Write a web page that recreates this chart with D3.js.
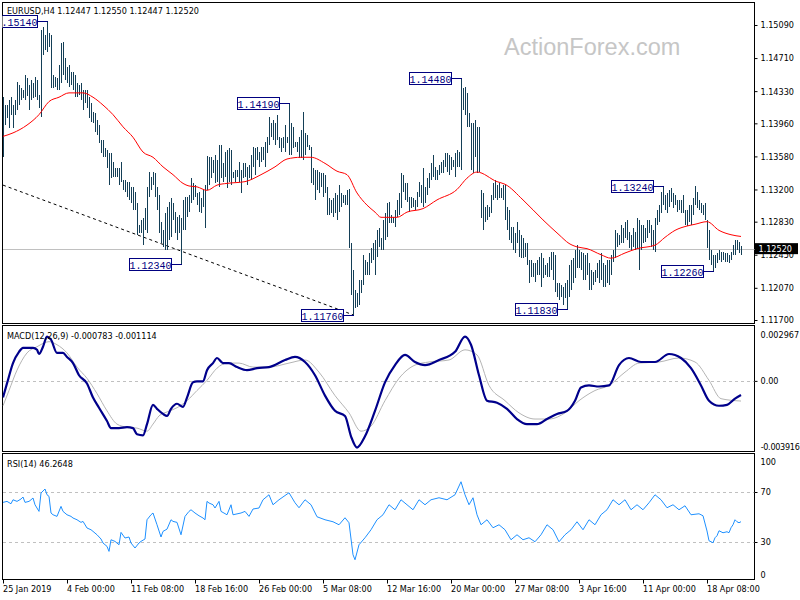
<!DOCTYPE html>
<html><head><meta charset="utf-8">
<script src="https://cdn.jsdelivr.net/npm/d3@7"></script>
<style>
body{margin:0;background:#fff}
svg text{font-family:"DejaVu Sans Condensed","DejaVu Sans",sans-serif;font-stretch:condensed;font-size:9px;fill:#000}
</style></head><body>
<svg id="c" width="800" height="600"></svg>
<script>
const chartTitle = "EURUSD,H4  1.12447 1.12550 1.12447 1.12520";
const macdTitle = "MACD(12,26,9) -0.000783 -0.001114";
const rsiTitle = "RSI(14) 46.2648";
const watermark = "ActionForex.com";

const highs = [
1.1426,1.1417,1.1417,1.1423,1.1426,1.1417,1.1423,1.1443,1.1440,1.1437,
1.1434,1.1451,1.1448,1.1440,1.1446,1.1442,1.1449,1.1446,1.1428,1.1503,
1.1507,1.1497,1.1514,1.1500,1.1497,1.1451,1.1449,1.1448,1.1463,1.1488,
1.1489,1.1471,1.1461,1.1463,1.1455,1.1455,1.1451,1.1442,1.1440,1.1442,
1.1434,1.1434,1.1434,1.1426,1.1419,1.1409,1.1408,1.1400,1.1394,1.1377,
1.1377,1.1368,1.1365,1.1362,1.1362,1.1352,1.1345,1.1345,1.1345,1.1352,
1.1331,1.1331,1.1329,1.1329,1.1323,1.1323,1.1317,1.1304,1.1279,1.1285,
1.1287,1.1299,1.1323,1.1340,1.1334,1.1340,1.1339,1.1323,1.1314,1.1283,
1.1273,1.1293,1.1300,1.1306,1.1310,1.1304,1.1294,1.1288,1.1291,1.1287,
1.1308,
1.1311,1.1311,1.1314,1.1333,1.1327,1.1325,1.1316,1.1317,1.1310,
1.1319,1.1325,1.1358,1.1357,1.1357,1.1354,1.1360,1.1354,1.1371,1.1371,
1.1350,1.1363,1.1365,1.1368,1.1365,1.1340,1.1342,1.1342,1.1352,1.1342,
1.1350,1.1350,1.1346,1.1348,1.1360,1.1369,1.1368,1.1369,1.1363,1.1369,
1.1369,1.1375,1.1380,1.1403,1.1396,1.1400,1.1396,1.1406,1.1380,1.1379,
1.1380,1.1394,1.1380,1.1419,1.1396,1.1392,1.1375,1.1375,1.1380,1.1388,
1.1409,1.1385,1.1383,1.1371,1.1369,1.1345,1.1342,1.1342,1.1340,1.1339,
1.1339,1.1337,1.1323,1.1310,1.1308,1.1310,1.1316,1.1314,1.1325,1.1316,
1.1314,1.1314,1.1319,1.1320,1.1258,1.1228,1.1205,1.1201,1.1216,1.1216,
1.1245,1.1239,1.1237,1.1247,1.1253,1.1258,
1.1262,1.1273,1.1276,1.1264,
1.1285,1.1293,1.1304,1.1306,1.1291,1.1288,1.1296,1.1308,1.1316,1.1339,
1.1337,1.1327,1.1327,1.1311,1.1311,1.1310,1.1308,1.1317,1.1329,1.1325,
1.1345,1.1323,1.1333,1.1339,1.1350,1.1360,1.1346,1.1342,1.1348,1.1352,
1.1354,1.1362,1.1362,1.1360,1.1357,1.1354,1.1362,1.1365,1.1363,1.1448,
1.1437,1.1438,1.1431,1.1408,1.1396,1.1396,1.1400,1.1392,1.1392,1.1319,
1.1316,1.1300,1.1302,1.1300,1.1314,1.1327,1.1331,1.1325,1.1327,1.1322,
1.1325,1.1325,1.1300,1.1296,1.1277,1.1277,1.1270,1.1283,1.1273,1.1268,
1.1264,1.1258,1.1258,1.1239,1.1239,1.1236,1.1236,1.1239,1.1242,1.1247,
1.1241,1.1233,1.1236,1.1242,1.1248,1.1248,
1.1245,1.1213,1.1213,1.1210,
1.1208,1.1213,1.1216,1.1233,1.1239,1.1241,1.1250,1.1256,1.1250,1.1248,
1.1247,1.1245,1.1247,1.1236,1.1228,1.1225,1.1228,1.1236,1.1239,1.1247,
1.1236,1.1233,1.1239,1.1239,1.1245,1.1250,1.1273,1.1270,1.1268,1.1279,
1.1276,1.1283,1.1285,1.1271,1.1268,1.1276,1.1271,1.1287,1.1285,1.1279,
1.1279,1.1276,1.1285,1.1285,1.1279,1.1273,1.1287,1.1296,1.1302,1.1317,
1.1324,1.1314,1.1316,1.1319,1.1322,1.1316,1.1314,1.1308,1.1308,1.1308,
1.1314,1.1296,1.1296,1.1302,1.1302,1.1310,1.1324,1.1317,1.1308,1.1304,
1.1302,1.1304,1.1285,1.1273,1.1250,1.1245,1.1245,1.1247,1.1250,1.1248,
1.1248,1.1247,1.1247,1.1245,1.1248,1.1256,1.1262,1.1262,1.1260,1.1255];

const lows = [
1.1357,1.1394,1.1402,1.1391,1.1406,1.1391,1.1406,1.1411,1.1417,1.1423,
1.1425,1.1423,1.1427,1.1411,1.1423,1.1425,1.1426,1.1423,1.1414,1.1403,
1.1474,1.1480,1.1478,1.1484,1.1437,1.1437,1.1438,1.1434,1.1434,1.1442,
1.1451,1.1446,1.1442,1.1438,1.1440,1.1434,1.1426,1.1426,1.1428,1.1423,
1.1411,1.1419,1.1414,1.1402,1.1398,1.1396,1.1386,1.1383,1.1373,1.1362,
1.1357,1.1357,1.1345,1.1325,1.1333,1.1334,1.1334,1.1334,1.1325,1.1329,
1.1319,1.1317,1.1311,1.1308,1.1304,1.1296,1.1296,1.1268,1.1270,1.1270,
1.1256,1.1273,1.1270,1.1311,1.1319,1.1325,1.1311,1.1296,1.1270,1.1258,
1.1254,1.1250,1.1250,1.1262,1.1265,1.1285,1.1270,1.1262,1.1270,1.1234,
1.1273,
1.1273,1.1288,1.1294,1.1304,1.1308,1.1311,1.1302,1.1294,1.1293,
1.1300,1.1276,1.1319,1.1325,1.1333,1.1339,1.1327,1.1329,1.1323,1.1333,
1.1329,1.1334,1.1322,1.1329,1.1325,1.1333,1.1329,1.1334,1.1329,1.1316,
1.1333,1.1334,1.1325,1.1333,1.1331,1.1346,1.1337,1.1354,1.1346,1.1352,
1.1354,1.1346,1.1362,1.1371,1.1380,1.1377,1.1371,1.1377,1.1368,1.1363,
1.1368,1.1363,1.1373,1.1360,1.1360,1.1368,1.1369,1.1363,1.1356,1.1356,
1.1354,1.1360,1.1369,1.1365,1.1327,1.1325,1.1308,1.1319,1.1316,1.1323,
1.1311,1.1316,1.1291,1.1291,1.1293,1.1288,1.1293,1.1285,1.1294,1.1300,
1.1304,1.1302,1.1302,1.1253,1.1199,1.1176,1.1184,1.1185,1.1187,1.1201,
1.1210,1.1222,1.1222,1.1222,1.1236,1.1239,
1.1222,1.1242,1.1254,1.1250,
1.1250,1.1262,1.1265,1.1281,1.1281,1.1281,1.1277,1.1288,1.1291,1.1299,
1.1317,1.1308,1.1306,1.1294,1.1299,1.1300,1.1296,1.1300,1.1311,1.1304,
1.1300,1.1304,1.1314,1.1322,1.1331,1.1334,1.1331,1.1331,1.1337,1.1339,
1.1339,1.1346,1.1340,1.1337,1.1342,1.1346,1.1334,1.1346,1.1346,1.1342,
1.1411,1.1406,1.1392,1.1392,1.1342,1.1339,1.1357,1.1339,1.1340,1.1287,
1.1273,1.1283,1.1285,1.1288,1.1293,1.1308,1.1310,1.1308,1.1310,1.1310,
1.1308,1.1285,1.1273,1.1262,1.1258,1.1250,1.1247,1.1258,1.1242,1.1241,
1.1241,1.1242,1.1233,1.1213,1.1219,1.1219,1.1214,1.1222,1.1222,1.1208,
1.1218,1.1222,1.1219,1.1219,1.1228,1.1216,
1.1202,1.1196,1.1193,1.1196,
1.1187,1.1195,1.1183,1.1196,1.1205,1.1213,1.1218,1.1230,1.1230,1.1228,
1.1216,1.1216,1.1222,1.1205,1.1205,1.1210,1.1214,1.1218,1.1213,1.1216,
1.1208,1.1208,1.1213,1.1210,1.1222,1.1237,1.1241,1.1254,1.1256,1.1258,
1.1258,1.1264,1.1262,1.1253,1.1250,1.1254,1.1250,1.1253,1.1228,1.1250,
1.1258,1.1260,1.1264,1.1270,1.1254,1.1250,1.1248,1.1279,1.1283,1.1293,
1.1302,1.1296,1.1293,1.1300,1.1306,1.1299,1.1302,1.1294,1.1296,1.1293,
1.1293,1.1279,1.1278,1.1283,1.1279,1.1291,1.1302,1.1299,1.1296,1.1293,
1.1291,1.1285,1.1253,1.1239,1.1233,1.1226,1.1230,1.1236,1.1239,1.1237,
1.1239,1.1237,1.1237,1.1236,1.1239,1.1245,1.1245,1.1250,1.1247,1.1245];

const maBars = [0,5,12,18,23,28,33,40,45,50,55,60,65,70,75,80,85,90,93,97,102,107,112,121,129,136,142,149,154,161,167,172,177,182,186,189,197,202,210,217,227,232,237,247,251,260,270,278,283,287,292,299,304,311,317,326,331,336,342,346,352,358,364,369];
const maValues = [1.1381,1.1385,1.1394,1.1406,1.1421,1.1426,1.1431,1.1431,1.1426,1.1417,1.1406,1.1392,1.1380,1.1363,1.1357,1.1346,1.1337,1.1327,1.1324,1.1323,1.1319,1.1325,1.1327,1.1329,1.1337,1.1346,1.1355,1.1357,1.1357,1.1350,1.1341,1.1337,1.1316,1.1302,1.1294,1.1288,1.1288,1.1294,1.1298,1.1308,1.1320,1.1333,1.1340,1.1329,1.1326,1.1308,1.1285,1.1268,1.1258,1.1254,1.1252,1.1245,1.1241,1.1247,1.1252,1.1256,1.1265,1.1273,1.1278,1.1280,1.1283,1.1273,1.1268,1.1266];

const trendBars = [0,175];
const trendPrices = [1.1325,1.1176];

const markBars = [22,89,143,175,229,282,330,355];
const markPrices = [1.15140,1.12340,1.14190,1.11760,1.14480,1.11830,1.13240,1.12260];

const priceTicks = [1.15090,1.14710,1.14330,1.13960,1.13580,1.13200,1.12830,1.12450,1.12070,1.11700];
const priceDomain = [1.11700,1.15090];
const lastPrice = 1.12520;

const macdBars = [0,2,5,8,10,15,17,18,20,22,24,27,30,32,35,38,42,45,48,52,54,58,62,65,67,70,72,75,77,80,82,84,87,90,92,95,97,100,102,105,107,110,113,117,122,127,133,141,146,151,156,161,166,171,174,177,181,186,191,196,201,206,211,218,226,231,234,238,242,247,252,257,262,267,272,277,282,286,289,293,298,303,308,313,319,326,333,339,344,349,353,358,362,366,369];
const macdMain = [-0.00091,-0.00014,0.00098,0.00160,0.00182,0.00182,0.00171,0.00148,0.00188,0.00244,0.00227,0.00154,0.00154,0.00132,0.00098,0.00031,-0.00014,-0.00092,-0.00148,-0.00221,-0.00260,-0.00260,-0.00255,-0.00260,-0.00294,-0.00300,-0.00238,-0.00132,-0.00154,-0.00182,-0.00193,-0.00154,-0.00126,-0.00143,-0.00092,-0.00008,-0.00003,-0.00003,0.00059,0.00098,0.00126,0.00098,0.00098,0.00076,0.00059,0.00070,0.00076,0.00115,0.00132,0.00104,0.00031,-0.00081,-0.00165,-0.00193,-0.00305,-0.00367,-0.00305,-0.00165,-0.00008,0.00087,0.00143,0.00104,0.00087,0.00115,0.00160,0.00244,0.00199,0.00031,-0.00109,-0.00120,-0.00154,-0.00210,-0.00238,-0.00238,-0.00210,-0.00182,-0.00165,-0.00109,-0.00036,-0.00025,-0.00031,-0.00025,0.00087,0.00126,0.00104,0.00104,0.00148,0.00126,0.00070,-0.00025,-0.00109,-0.00137,-0.00132,-0.00098,-0.00078];
const signalBars = [0,3,7,12,17,23,27,32,37,42,47,52,57,62,67,72,75,78,82,87,92,97,102,107,112,118,125,133,143,151,158,166,173,179,184,191,198,206,213,223,231,237,243,251,258,266,273,281,288,296,303,311,318,328,338,346,353,359,369];
const macdSignal = [-0.00137,-0.00053,0.00059,0.00154,0.00188,0.00216,0.00199,0.00154,0.00076,0.00014,-0.00070,-0.00165,-0.00238,-0.00255,-0.00260,-0.00277,-0.00238,-0.00193,-0.00171,-0.00148,-0.00109,-0.00053,0.00003,0.00070,0.00098,0.00098,0.00076,0.00076,0.00098,0.00115,0.00048,-0.00081,-0.00176,-0.00277,-0.00249,-0.00109,0.00014,0.00087,0.00104,0.00115,0.00171,0.00143,-0.00025,-0.00109,-0.00176,-0.00210,-0.00210,-0.00176,-0.00109,-0.00053,-0.00025,0.00048,0.00098,0.00104,0.00126,0.00104,0.00003,-0.00098,-0.00111];
const macdTicks = [0.002967,0,-0.003916];

const rsiBars = [0,2,4,5,7,9,10,11,13,14,15,16,18,19,21,22,23,24,25,27,29,30,32,34,35,37,39,40,42,44,45,47,49,50,52,53,54,56,58,59,61,63,64,66,68,69,71,72,74,75,77,79,80,82,84,85,87,89,91,93,94,96,98,100,101,102,103,105,106,108,109,112,114,115,119,121,123,125,128,130,133,135,138,143,146,148,151,154,157,161,165,168,171,173,175,176,178,181,184,187,190,193,196,199,202,205,208,211,214,218,222,226,229,231,233,235,237,239,242,245,248,251,254,257,260,263,266,269,272,275,278,281,284,287,290,293,296,299,302,305,308,311,314,317,320,323,326,329,332,335,338,341,344,348,350,352,353,355,356,357,358,359,360,362,363,364,365,366,367,368,369];
const rsiValues = [61.7,62.5,60.6,63.8,62.5,64.4,66,61.7,62.5,63.8,65.2,59.8,54.5,69.2,72.4,67.8,66.5,53.2,51.8,50.5,58.5,54.5,51.8,50.5,49.2,47.8,45.7,46.5,41.2,39.8,38.5,35.8,32.4,29.2,26.5,22.5,31.8,30.5,27.8,37.7,33.2,34,29.2,25.2,29.2,30.5,32.4,47.8,51.8,53.2,43.8,34,38.5,40.3,47.8,46.5,45.7,35.8,50.5,54.5,55.8,53.2,51,49.2,47.8,62.5,61.2,59.8,57.2,62.5,54.5,51.8,59.8,51.8,53.2,54.5,50.5,56.4,57.2,63.8,67.8,59.8,63.8,69.4,61.4,57.4,63.8,59.8,50.2,47.8,46.2,43.8,49.4,45.4,19.8,15.8,27.8,33.4,39.8,47.8,51.8,59.8,55.8,63.8,59.8,55.8,63.8,59.8,63.8,65.4,63.8,67.8,78.2,67.8,59.8,65.4,51.8,43.8,47.8,41.4,43.8,39.8,31.8,35.8,31.8,33.4,30.2,35.8,43.8,39.8,30.2,35.8,39.8,46.2,39.8,47.8,43.8,51.8,55.8,63.8,59.8,63.8,55.8,59.8,55.8,61.4,67.8,63.8,57.4,59.8,55.8,59,51.8,52.6,51,38.8,31,29.4,33.4,35,39,38.2,37.4,38.2,37.4,41.4,43.8,47.8,46.2,45.4,46.26];
const rsiTicks = [100,70,30,0];
const rsiLevels = [70,30];

const timeBars = [0,32,64,96,128,160,192,224,256,288,320,352];
const timeLabels = ["25 Jan 2019","4 Feb 00:00","11 Feb 08:00","18 Feb 16:00","26 Feb 00:00","5 Mar 08:00","12 Mar 16:00","20 Mar 00:00","27 Mar 08:00","3 Apr 16:00","11 Apr 00:00","18 Apr 08:00"];

// ---------------- layout ----------------
const svg = d3.select("#c");
const L = 2.5, R = 754.5;
const P = {
  main: {top: 2.5, bottom: 323.5},
  macd: {top: 325.5, bottom: 451.5},
  rsi:  {top: 453.5, bottom: 579.5}
};
const nBars = Math.min(highs.length, lows.length);
const x = d3.scaleLinear().domain([0, 369]).range([3, 741]);
const y = d3.scaleLinear().domain(priceDomain).range([320, 25]);
const yM = d3.scaleLinear().domain([macdTicks[2], macdTicks[0]]).range([452, 327]);
const yR = d3.scaleLinear().domain([0, 100]).range([579.5, 454.5]);
const px = i => Math.round(x(i)) + 0.5;

const defs = svg.append("defs");
Object.entries(P).forEach(([k, p]) => {
  defs.append("clipPath").attr("id", "clip-" + k).append("rect")
    .attr("x", L).attr("y", p.top).attr("width", R - L).attr("height", p.bottom - p.top);
});

Object.values(P).forEach(p => {
  svg.append("rect").attr("x", L).attr("y", p.top).attr("width", R - L).attr("height", p.bottom - p.top)
    .attr("fill", "#fff").attr("stroke", "#000").attr("stroke-width", 1).attr("shape-rendering", "crispEdges");
});

// ---------------- main panel ----------------
const gMain = svg.append("g").attr("clip-path", "url(#clip-main)");

gMain.append("text").attr("x", 504).attr("y", 54.5).text(watermark)
  .style("font-family", "'Liberation Sans', Arial, sans-serif").style("font-stretch", "normal")
  .style("font-size", "23.5px").style("fill", "#c6c6c6");

gMain.append("line").attr("x1", L).attr("x2", R)
  .attr("y1", Math.round(y(lastPrice)) + 0.5).attr("y2", Math.round(y(lastPrice)) + 0.5)
  .attr("stroke", "#c0c0c0").attr("stroke-width", 1).attr("shape-rendering", "crispEdges");

gMain.append("line")
  .attr("x1", x(trendBars[0])).attr("y1", y(trendPrices[0]))
  .attr("x2", x(trendBars[1])).attr("y2", y(trendPrices[1]))
  .attr("stroke", "#000").attr("stroke-width", 1).attr("stroke-dasharray", "3,3");

gMain.append("g").selectAll("line").data(d3.range(nBars)).join("line")
  .attr("x1", px).attr("x2", px)
  .attr("y1", i => y(highs[i])).attr("y2", i => y(lows[i]))
  .attr("stroke", "#143f57").attr("stroke-width", 1).attr("shape-rendering", "crispEdges");

const maData = maBars.map((b, k) => [b, maValues[k]]).filter(d => d[1] !== undefined);
gMain.append("path").datum(maData)
  .attr("d", d3.line().x(d => x(d[0])).y(d => y(d[1])).curve(d3.curveMonotoneX))
  .attr("fill", "none").attr("stroke", "#ff0000").attr("stroke-width", 1);

markBars.forEach((b, k) => {
  const bx = px(b), py = Math.round(y(markPrices[k])) + 0.5;
  const bw = 42, bh = 12, gap = 10;
  gMain.append("line").attr("x1", bx - gap).attr("x2", bx).attr("y1", py).attr("y2", py)
    .attr("stroke", "#000080").attr("shape-rendering", "crispEdges");
  gMain.append("rect").attr("x", bx - gap - bw).attr("y", py - bh / 2).attr("width", bw).attr("height", bh)
    .attr("fill", "#fff").attr("stroke", "#000080").attr("shape-rendering", "crispEdges");
  gMain.append("text").attr("x", bx - gap - bw / 2).attr("y", py + 4).attr("text-anchor", "middle")
    .text(markPrices[k].toFixed(5))
    .style("font-family", "'Liberation Mono','DejaVu Sans Mono',monospace").style("font-stretch", "normal")
    .style("font-size", "10px").style("fill", "#000080");
});

const axP = svg.append("g").attr("transform", `translate(${R},0)`)
  .call(d3.axisRight(y).tickValues(priceTicks).tickSize(3).tickPadding(3).tickFormat(d3.format(".5f")));
axP.select(".domain").remove();
axP.selectAll("line").attr("stroke", "#000");
axP.selectAll("text").attr("fill", "#000").style("font-size", null).style("font-family", null);

svg.append("rect").attr("x", 755).attr("y", y(lastPrice) - 5.5).attr("width", 43).attr("height", 11).attr("fill", "#000");
svg.append("text").attr("x", 758.5).attr("y", y(lastPrice) + 3.5).text(lastPrice.toFixed(5)).style("fill", "#fff");

svg.append("text").attr("x", 7).attr("y", 14).text(chartTitle);

// ---------------- MACD panel ----------------
const gM = svg.append("g").attr("clip-path", "url(#clip-macd)");
gM.append("line").attr("x1", L).attr("x2", R).attr("y1", Math.round(yM(0)) + 0.5).attr("y2", Math.round(yM(0)) + 0.5)
  .attr("stroke", "#c0c0c0").attr("stroke-dasharray", "3,3").attr("shape-rendering", "crispEdges");
const sigData = signalBars.map((b, k) => [b, macdSignal[k]]).filter(d => d[1] !== undefined);
gM.append("path").datum(sigData)
  .attr("d", d3.line().x(d => x(d[0])).y(d => yM(d[1])).curve(d3.curveMonotoneX))
  .attr("fill", "none").attr("stroke", "#b4b4b4").attr("stroke-width", 1);
const mainData = macdBars.map((b, k) => [b, macdMain[k]]).filter(d => d[1] !== undefined);
gM.append("path").datum(mainData)
  .attr("d", d3.line().x(d => x(d[0])).y(d => yM(d[1])).curve(d3.curveMonotoneX))
  .attr("fill", "none").attr("stroke", "#00008b").attr("stroke-width", 2.2).attr("stroke-linejoin", "round");
svg.append("text").attr("x", 7).attr("y", 338.5).text(macdTitle);

const axM = svg.append("g").attr("transform", `translate(${R},0)`)
  .call(d3.axisRight(yM).tickValues(macdTicks).tickSize(3).tickPadding(3)
    .tickFormat(d => d === 0 ? "0.00" : d.toFixed(6)));
axM.select(".domain").remove();
axM.selectAll(".tick text").attr("fill", "#000").style("font-size", null).style("font-family", null)
  .attr("dy", d => d === macdTicks[0] ? "1.2em" : d === macdTicks[2] ? "-0.3em" : "0.32em")
  .attr("x", d => d === macdTicks[2] ? 45 : 6)
  .attr("text-anchor", d => d === macdTicks[2] ? "end" : "start")
  .style("letter-spacing", d => d === macdTicks[2] ? "-0.3px" : null);
axM.selectAll(".tick line").attr("stroke", d => d === 0 ? "#000" : "none");

// ---------------- RSI panel ----------------
const gR = svg.append("g").attr("clip-path", "url(#clip-rsi)");
rsiLevels.forEach(v => {
  gR.append("line").attr("x1", L).attr("x2", R).attr("y1", Math.round(yR(v)) + 0.5).attr("y2", Math.round(yR(v)) + 0.5)
    .attr("stroke", "#c0c0c0").attr("stroke-dasharray", "3,3").attr("shape-rendering", "crispEdges");
});
const rsiData = rsiBars.map((b, k) => [b, rsiValues[k]]).filter(d => d[1] !== undefined);
gR.append("path").datum(rsiData)
  .attr("d", d3.line().x(d => x(d[0])).y(d => yR(d[1])))
  .attr("fill", "none").attr("stroke", "#1e90ff").attr("stroke-width", 1);
svg.append("text").attr("x", 7).attr("y", 467).text(rsiTitle);

const axR = svg.append("g").attr("transform", `translate(${R},0)`)
  .call(d3.axisRight(yR).tickValues(rsiTicks).tickSize(3).tickPadding(3).tickFormat(d3.format("d")));
axR.select(".domain").remove();
axR.selectAll(".tick text").attr("fill", "#000").style("font-size", null).style("font-family", null)
  .attr("dy", d => d === 100 ? "1.1em" : d === 0 ? "-0.2em" : "0.32em");
axR.selectAll(".tick line").attr("stroke", d => (d === 70 || d === 30) ? "#000" : "none");

// ---------------- time axis ----------------
const axT = svg.append("g").attr("transform", `translate(0,${P.rsi.bottom})`)
  .call(d3.axisBottom(x).tickValues(timeBars).tickSize(4).tickPadding(2)
    .tickFormat((d, k) => timeLabels[k]));
axT.select(".domain").remove();
axT.selectAll(".tick").attr("transform", d => `translate(${px(d)},0)`);
axT.selectAll(".tick line").attr("stroke", "#000");
axT.selectAll(".tick text").attr("fill", "#000").attr("text-anchor", "start").attr("x", -0.5)
  .style("font-size", null).style("font-family", null);
</script>
</body></html>
